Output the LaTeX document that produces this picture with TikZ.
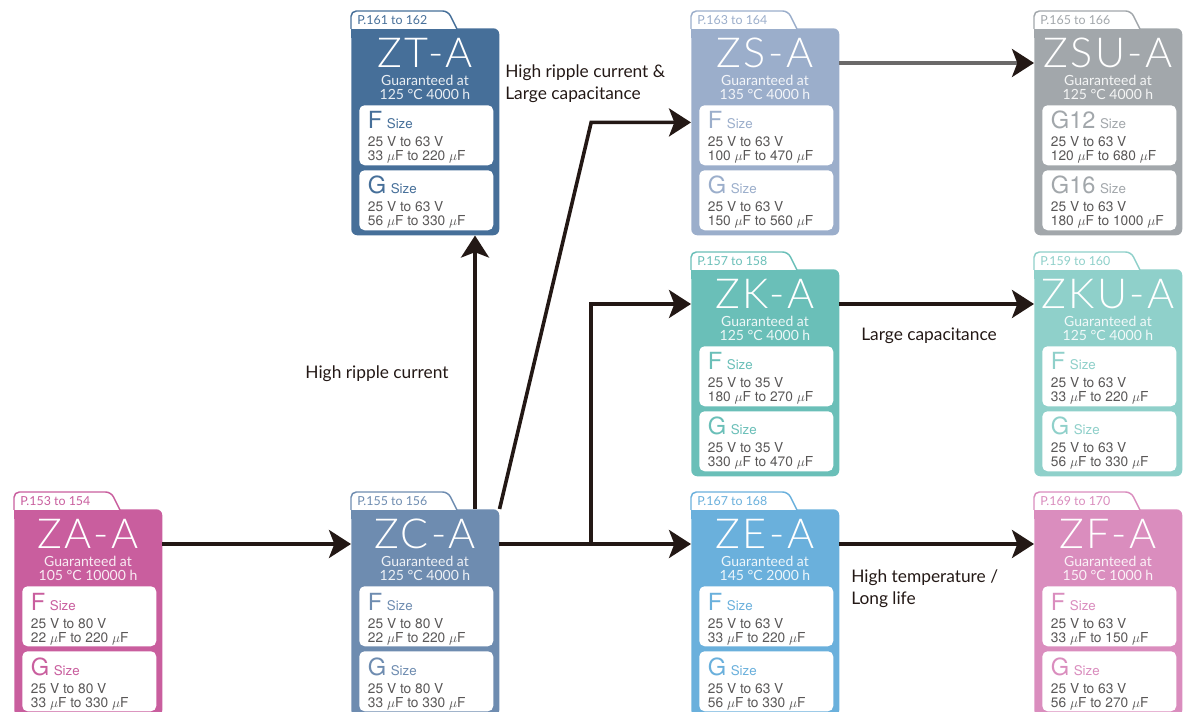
\documentclass[tikz,border=0pt]{standalone}
\usepackage{fontspec}
\setmainfont{Lato}
\newfontfamily\lightfont{Lato Light}
\newfontfamily\titlefont{Lato Light}[LetterSpace=6]
\newfontfamily\boxfont{TeX Gyre Heros}
\usetikzlibrary{arrows.meta,calc}

\definecolor{ink}{HTML}{231815}
\definecolor{grayline}{HTML}{6B6969}
\definecolor{textgray}{HTML}{595757}
\definecolor{zaCol}{HTML}{C95E9E}
\definecolor{zcCol}{HTML}{6E8CB0}
\definecolor{ztCol}{HTML}{466F99}
\definecolor{zsCol}{HTML}{9BAECB}
\definecolor{zsuCol}{HTML}{A2A7AB}
\definecolor{zkCol}{HTML}{6ABFB8}
\definecolor{zkuCol}{HTML}{8FD0CA}
\definecolor{zeCol}{HTML}{6AB0DC}
\definecolor{zfCol}{HTML}{DA8DBE}

\tikzset{
  flow/.style={line width=2.7pt, draw=ink, -{Stealth[length=16.5pt,width=21pt,inset=4pt,color=ink]}},
  cardbody/.style={rectangle, rounded corners=4.5pt, inner sep=0pt, minimum width=111pt, minimum height=155.25pt, anchor=north west},
  tabline/.style={fill=white, draw=cardcol, line width=1.1pt, rounded corners=4pt},
  tabtext/.style={anchor=west, inner sep=0pt, text=cardcol, font=\fontsize{9.3}{10}\selectfont},
  cardtitle/.style={inner sep=0pt, text=white, font=\titlefont\fontsize{31}{31}\selectfont},
  cardnote/.style={inner sep=0pt, align=center, text=white!88!cardcol, font=\fontsize{10.5}{10.5}\selectfont},
  sizebox/.style={rectangle, fill=white, rounded corners=4pt, inner sep=0pt, minimum width=100.5pt, minimum height=45pt, anchor=north west},
  sizeletter/.style={anchor=base west, inner sep=0pt, text=cardcol, font=\boxfont\fontsize{17.7}{18}\selectfont},
  sizeword/.style={anchor=base west, inner sep=0pt, text=cardcol, font=\boxfont\fontsize{10}{10}\selectfont},
  sizeline/.style={anchor=base west, inner sep=0pt, text=textgray, font=\boxfont\fontsize{10.3}{10.3}\selectfont},
  lbl/.style={inner sep=0pt, align=left, text=ink, font=\fontsize{13}{16.5}\selectfont}
}

\newcommand{\card}[7]{%
  \colorlet{cardcol}{#4}
  \begin{scope}[shift={(#2,#3)}]
    \node[cardbody, fill=cardcol] (#1) at (0,17) {};
    \fill[cardcol] (0,17) rectangle (10,27);
    \filldraw[tabline] (0,18) -- (0,0) -- (97,0) -- (106,18);
    \node[tabtext] (#1-tab) at (6,9) {#5};
    \node[cardtitle] (#1-title) at (74,42) {#6};
    \node[cardnote] (#1-note) at (74,76) {Guaranteed at\\#7};
    \node[sizebox] (#1-a) at (8,94) {};
    \node[sizebox] (#1-b) at (8,159) {};
    \coordinate (#1-in) at (0,52);
    \coordinate (#1-out) at (148,52);
  \end{scope}}

\newcommand{\sizebox}[4]{%
  \node[sizeletter] (#1-l) at ([shift={(6.5pt,-18pt)}]#1.north west) {#2};
  \node[sizeword] (#1-s) at ([xshift=3pt]#1-l.base east) {Size};
  \node[sizeline] (#1-v) at ([shift={(6.5pt,-31.5pt)}]#1.north west) {#3};
  \node[sizeline] (#1-c) at ([shift={(6.5pt,-42pt)}]#1.north west) {#4};}

\begin{document}
\begin{tikzpicture}[x=0.75pt,y=-0.75pt]
\useasboundingbox (0,0) rectangle (1185,712);
\clip (0,0) rectangle (1185,712);

\card{za}{14}{492}{zaCol}{P.153 to 154}{ZA-A}{105 °C 10000 h}
\sizebox{za-a}{F}{25 V to 80 V}{22 $\mu$F to 220 $\mu$F}
\sizebox{za-b}{G}{25 V to 80 V}{33 $\mu$F to 330 $\mu$F}

\card{zc}{351}{492}{zcCol}{P.155 to 156}{ZC-A}{125 °C 4000 h}
\sizebox{zc-a}{F}{25 V to 80 V}{22 $\mu$F to 220 $\mu$F}
\sizebox{zc-b}{G}{25 V to 80 V}{33 $\mu$F to 330 $\mu$F}

\card{zt}{351}{11}{ztCol}{P.161 to 162}{ZT-A}{125 °C 4000 h}
\sizebox{zt-a}{F}{25 V to 63 V}{33 $\mu$F to 220 $\mu$F}
\sizebox{zt-b}{G}{25 V to 63 V}{56 $\mu$F to 330 $\mu$F}

\card{zs}{691}{11}{zsCol}{P.163 to 164}{ZS-A}{135 °C 4000 h}
\sizebox{zs-a}{F}{25 V to 63 V}{100 $\mu$F to 470 $\mu$F}
\sizebox{zs-b}{G}{25 V to 63 V}{150 $\mu$F to 560 $\mu$F}

\card{zsu}{1034}{11}{zsuCol}{P.165 to 166}{ZSU-A}{125 °C 4000 h}
\sizebox{zsu-a}{G12}{25 V to 63 V}{120 $\mu$F to 680 $\mu$F}
\sizebox{zsu-b}{G16}{25 V to 63 V}{180 $\mu$F to 1000 $\mu$F}

\card{zk}{691}{252}{zkCol}{P.157 to 158}{ZK-A}{125 °C 4000 h}
\sizebox{zk-a}{F}{25 V to 35 V}{180 $\mu$F to 270 $\mu$F}
\sizebox{zk-b}{G}{25 V to 35 V}{330 $\mu$F to 470 $\mu$F}

\card{zku}{1034}{252}{zkuCol}{P.159 to 160}{ZKU-A}{125 °C 4000 h}
\sizebox{zku-a}{F}{25 V to 63 V}{33 $\mu$F to 220 $\mu$F}
\sizebox{zku-b}{G}{25 V to 63 V}{56 $\mu$F to 330 $\mu$F}

\card{ze}{691}{492}{zeCol}{P.167 to 168}{ZE-A}{145 °C 2000 h}
\sizebox{ze-a}{F}{25 V to 63 V}{33 $\mu$F to 220 $\mu$F}
\sizebox{ze-b}{G}{25 V to 63 V}{56 $\mu$F to 330 $\mu$F}

\card{zf}{1034}{492}{zfCol}{P.169 to 170}{ZF-A}{150 °C 1000 h}
\sizebox{zf-a}{F}{25 V to 63 V}{33 $\mu$F to 150 $\mu$F}
\sizebox{zf-b}{G}{25 V to 63 V}{56 $\mu$F to 270 $\mu$F}

\coordinate (split) at ($(zc-out)!0.48!(ze-in)$);
\coordinate (zc-up) at ([xshift=93pt]zc.north west);
\coordinate (zs-side) at ([yshift=7pt]zs.west);

\draw[flow] (za-out) -- (zc-in);
\draw[flow] (zc-up) -- (zc-up |- zt.south);
\draw[flow] (zc.north east) -- (split |- zs-side) -- (zs-side);
\draw[flow] (zc-out) -- (ze-in);
\draw[flow] (split) |- (zk-in);
\draw[flow, draw=grayline] (zs-out) -- (zsu-in);
\draw[flow] (zk-out) -- (zku-in);
\draw[flow] (ze-out) -- (zf-in);

\node[lbl, anchor=west] (ripcap) at (505,84) {High ripple current \&\\Large capacitance};
\node[lbl] (ripple) at (377,374) {High ripple current};
\node[lbl] (largecap) at (929,336) {Large capacitance};
\node[lbl, anchor=west] (hightemp) at (851,589) {High temperature /\\Long life};
\end{tikzpicture}
\end{document}
